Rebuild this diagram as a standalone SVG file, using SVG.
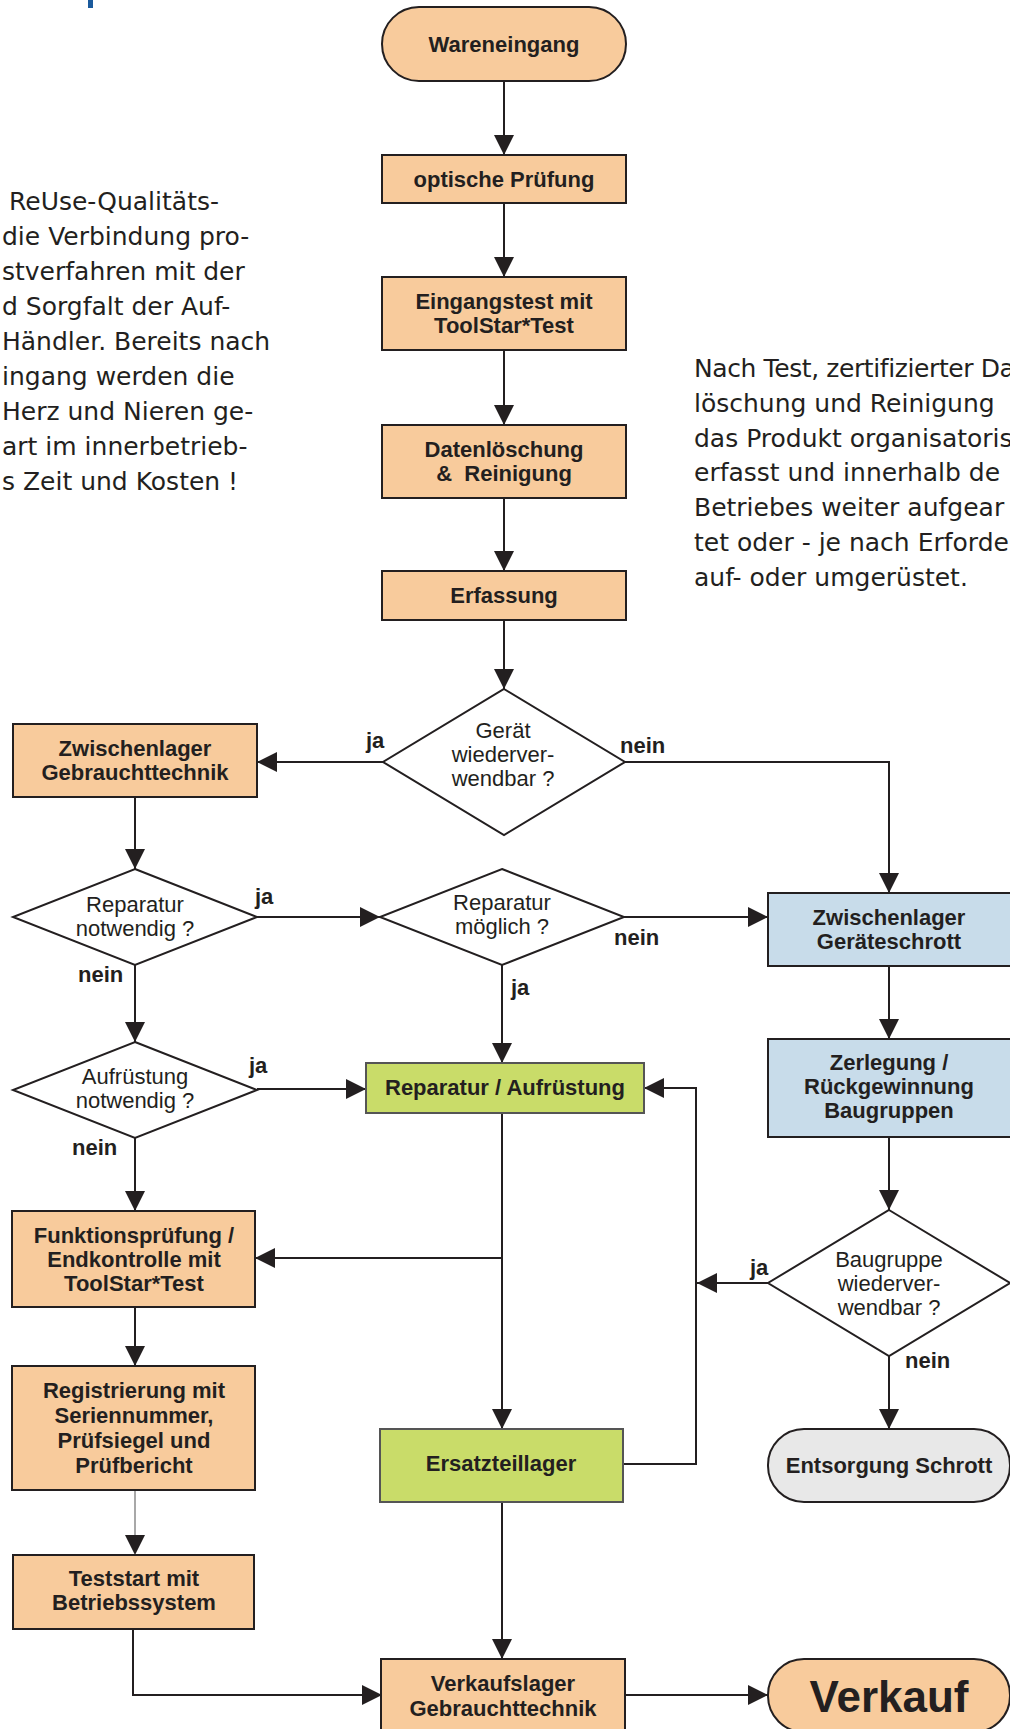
<svg xmlns="http://www.w3.org/2000/svg" width="1010" height="1729" viewBox="0 0 1010 1729">
<style>
.bx{stroke:#231f20;stroke-width:2}
.or{fill:#f8cb9c}
.bl{fill:#c8dcea}
.gr{fill:#c9dc69;stroke:#555}
.gy{fill:#e8e8e8}
.dia{fill:#ffffff;stroke:#231f20;stroke-width:2}
.lb{font-family:"Liberation Sans",Arial,sans-serif;font-weight:bold;font-size:22px;fill:#231f20;text-anchor:middle}
.lr{font-family:"Liberation Sans",Arial,sans-serif;font-weight:normal;font-size:22px;fill:#231f20;text-anchor:middle}
.yn{font-family:"Liberation Sans",Arial,sans-serif;font-weight:bold;font-size:22px;fill:#231f20}
.para{font-family:"DejaVu Sans","Liberation Sans",sans-serif;font-size:25px;fill:#231f20}
.con{fill:none;stroke:#231f20;stroke-width:2}
.thin{fill:none;stroke:#6e6e6e;stroke-width:1.2}
</style>
<defs>
<marker id="ah" markerUnits="userSpaceOnUse" markerWidth="20" markerHeight="20" refX="20" refY="10" orient="auto">
<path d="M0,0 L20,10 L0,20 z" fill="#231f20"/>
</marker>
</defs>
<rect width="1010" height="1729" fill="#ffffff"/>
<rect x="88" y="0" width="5" height="8" fill="#1b5a9c"/>

<g id="text-left">
<text class="para" x="9" y="210">ReUse-Qualitäts-</text>
<text class="para" x="2" y="245">die Verbindung pro-</text>
<text class="para" x="2" y="280">stverfahren mit der</text>
<text class="para" x="2" y="315">d Sorgfalt der Auf-</text>
<text class="para" x="2" y="350">Händler. Bereits nach</text>
<text class="para" x="2" y="385">ingang werden die</text>
<text class="para" x="2" y="420">Herz und Nieren ge-</text>
<text class="para" x="2" y="455">art im innerbetrieb-</text>
<text class="para" x="2" y="490">s Zeit und Kosten !</text>
</g>

<g id="text-right">
<text class="para" x="694" y="377" letter-spacing="-0.4">Nach Test, zertifizierter Da</text>
<text class="para" x="694" y="412">löschung und Reinigung</text>
<text class="para" x="694" y="447">das Produkt organisatoris</text>
<text class="para" x="694" y="481">erfasst und innerhalb de</text>
<text class="para" x="694" y="516">Betriebes weiter aufgear</text>
<text class="para" x="694" y="551">tet oder - je nach Erforde</text>
<text class="para" x="694" y="586">auf- oder umgerüstet.</text>
</g>

<g id="connectors">
<path class="con" marker-end="url(#ah)" d="M504,81 V155"/>
<path class="con" marker-end="url(#ah)" d="M504,203 V277"/>
<path class="con" marker-end="url(#ah)" d="M504,350 V425"/>
<path class="con" marker-end="url(#ah)" d="M504,498 V571"/>
<path class="con" marker-end="url(#ah)" d="M504,620 V689"/>
<path class="con" marker-end="url(#ah)" d="M383,762 H257"/>
<path class="con" marker-end="url(#ah)" d="M625,762 H889 V893"/>
<path class="con" marker-end="url(#ah)" d="M135,797 V869"/>
<path class="con" marker-end="url(#ah)" d="M257,917 H380"/>
<path class="con" marker-end="url(#ah)" d="M624,917 H768"/>
<path class="con" marker-end="url(#ah)" d="M502,965 V1063"/>
<path class="con" marker-end="url(#ah)" d="M135,965 V1042"/>
<path class="con" marker-end="url(#ah)" d="M257,1089 H366"/>
<path class="con" marker-end="url(#ah)" d="M135,1138 V1211"/>
<path class="con" marker-end="url(#ah)" d="M502,1113 V1429"/>
<path class="con" marker-end="url(#ah)" d="M502,1258 H255"/>
<path class="con" marker-end="url(#ah)" d="M623,1464 H696 V1088 H644"/>
<path class="con" marker-end="url(#ah)" d="M768,1283 H697"/>
<path class="con" marker-end="url(#ah)" d="M889,966 V1039"/>
<path class="con" marker-end="url(#ah)" d="M889,1137 V1210"/>
<path class="con" marker-end="url(#ah)" d="M889,1356 V1429"/>
<path class="con" marker-end="url(#ah)" d="M135,1307 V1366"/>
<path class="thin" d="M135,1490 V1540"/>
<path class="con" marker-end="url(#ah)" d="M135,1538 V1555" stroke-opacity="0"/>
<path class="con" marker-end="url(#ah)" d="M133,1629 V1695 H382"/>
<path class="con" marker-end="url(#ah)" d="M502,1502 V1659"/>
<path class="con" marker-end="url(#ah)" d="M625,1695 H768"/>
<text class="yn" x="366" y="748">ja</text>
<text class="yn" x="620" y="753">nein</text>
<text class="yn" x="255" y="904">ja</text>
<text class="yn" x="614" y="945">nein</text>
<text class="yn" x="78" y="982">nein</text>
<text class="yn" x="511" y="995">ja</text>
<text class="yn" x="249" y="1073">ja</text>
<text class="yn" x="72" y="1155">nein</text>
<text class="yn" x="750" y="1275">ja</text>
<text class="yn" x="905" y="1368">nein</text>
</g>

<g id="n-wareneingang">
<rect class="bx or" x="382" y="7" width="244" height="74" rx="37" ry="37"/>
<text class="lb" x="504" y="52">Wareneingang</text>
</g>
<g id="n-optisch">
<rect class="bx or" x="382" y="155" width="244" height="48"/>
<text class="lb" x="504" y="187">optische Prüfung</text>
</g>
<g id="n-eingangstest">
<rect class="bx or" x="382" y="277" width="244" height="73"/>
<text class="lb" x="504" y="309">Eingangstest mit</text>
<text class="lb" x="504" y="333">ToolStar*Test</text>
</g>
<g id="n-datenloeschung">
<rect class="bx or" x="382" y="425" width="244" height="73"/>
<text class="lb" x="504" y="457">Datenlöschung</text>
<text class="lb" x="504" y="481">&amp;&#160; Reinigung</text>
</g>
<g id="n-erfassung">
<rect class="bx or" x="382" y="571" width="244" height="49"/>
<text class="lb" x="504" y="603">Erfassung</text>
</g>
<g id="n-geraet">
<polygon class="dia" points="504,689 625,762 504,835 383,762"/>
<text class="lr" x="503" y="738">Gerät</text>
<text class="lr" x="503" y="762">wiederver-</text>
<text class="lr" x="503" y="786">wendbar ?</text>
</g>
<g id="n-zw-gebraucht">
<rect class="bx or" x="13" y="724" width="244" height="73"/>
<text class="lb" x="135" y="756">Zwischenlager</text>
<text class="lb" x="135" y="780">Gebrauchttechnik</text>
</g>
<g id="n-rep-notwendig">
<polygon class="dia" points="135,869 257,917 135,965 13,917"/>
<text class="lr" x="135" y="912">Reparatur</text>
<text class="lr" x="135" y="936">notwendig ?</text>
</g>
<g id="n-rep-moeglich">
<polygon class="dia" points="502,869 624,917 502,965 380,917"/>
<text class="lr" x="502" y="910">Reparatur</text>
<text class="lr" x="502" y="934">möglich ?</text>
</g>
<g id="n-zw-schrott">
<rect class="bx bl" x="768" y="893" width="243" height="73"/>
<text class="lb" x="889" y="925">Zwischenlager</text>
<text class="lb" x="889" y="949">Geräteschrott</text>
</g>
<g id="n-aufr-notwendig">
<polygon class="dia" points="135,1042 257,1090 135,1138 13,1090"/>
<text class="lr" x="135" y="1084">Aufrüstung</text>
<text class="lr" x="135" y="1108">notwendig ?</text>
</g>
<g id="n-reparatur">
<rect class="bx gr" x="366" y="1063" width="278" height="50"/>
<text class="lb" x="505" y="1095">Reparatur / Aufrüstung</text>
</g>
<g id="n-zerlegung">
<rect class="bx bl" x="768" y="1039" width="243" height="98"/>
<text class="lb" x="889" y="1070">Zerlegung /</text>
<text class="lb" x="889" y="1094">Rückgewinnung</text>
<text class="lb" x="889" y="1118">Baugruppen</text>
</g>
<g id="n-funktionspruefung">
<rect class="bx or" x="12" y="1211" width="243" height="96"/>
<text class="lb" x="134" y="1243">Funktionsprüfung /</text>
<text class="lb" x="134" y="1267">Endkontrolle mit</text>
<text class="lb" x="134" y="1291">ToolStar*Test</text>
</g>
<g id="n-baugruppe">
<polygon class="dia" points="889,1210 1010,1283 889,1356 768,1283"/>
<text class="lr" x="889" y="1267">Baugruppe</text>
<text class="lr" x="889" y="1291">wiederver-</text>
<text class="lr" x="889" y="1315">wendbar ?</text>
</g>
<g id="n-registrierung">
<rect class="bx or" x="12" y="1366" width="243" height="124"/>
<text class="lb" x="134" y="1398">Registrierung mit</text>
<text class="lb" x="134" y="1423">Seriennummer,</text>
<text class="lb" x="134" y="1448">Prüfsiegel und</text>
<text class="lb" x="134" y="1473">Prüfbericht</text>
</g>
<g id="n-ersatzteillager">
<rect class="bx gr" x="380" y="1429" width="243" height="73"/>
<text class="lb" x="501" y="1471">Ersatzteillager</text>
</g>
<g id="n-entsorgung">
<rect class="bx gy" x="768" y="1429" width="242" height="73" rx="36" ry="36"/>
<text class="lb" x="889" y="1473">Entsorgung Schrott</text>
</g>
<g id="n-teststart">
<rect class="bx or" x="13" y="1555" width="241" height="74"/>
<text class="lb" x="134" y="1586">Teststart mit</text>
<text class="lb" x="134" y="1610">Betriebssystem</text>
</g>
<g id="n-verkaufslager">
<rect class="bx or" x="381" y="1659" width="244" height="73"/>
<text class="lb" x="503" y="1691">Verkaufslager</text>
<text class="lb" x="503" y="1716">Gebrauchttechnik</text>
</g>
<g id="n-verkauf">
<rect class="bx or" x="768" y="1659" width="242" height="73" rx="36" ry="36"/>
<text class="lb" x="889" y="1712" style="font-size:44px">Verkauf</text>
</g>
</svg>
